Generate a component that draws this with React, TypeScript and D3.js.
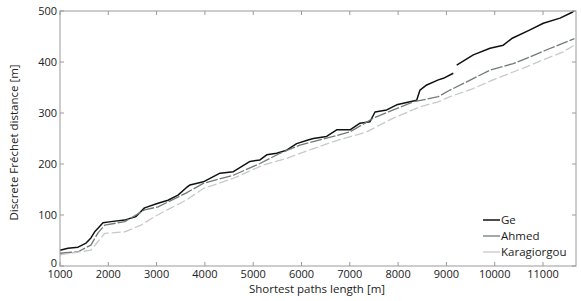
import React from 'react';
import * as d3 from 'd3';

// shortest path length [m] / discrete Frechet distance [m]
const geX = [1000, 1165, 1373, 1540, 1640, 1718, 1787, 1890, 2056, 2340, 2573, 2750, 3030, 3236, 3443, 3609, 3692, 3967, 4313, 4589, 4934, 5140, 5280, 5486, 5693, 5900, 6135, 6244, 6520, 6728, 7004, 7211, 7418, 7522, 7764, 7971, 8246, 8385, 8453, 8592, 8833, 8936, 9143, 9180, 9213, 9557, 9903, 10178, 10352, 10731, 11006, 11352, 11594, 11640];
const geY: (number | null)[] = [31, 35, 37, 45, 55, 67, 74, 85, 87, 90, 97, 114, 123, 129, 139, 153, 159, 165, 182, 185, 205, 208, 218, 221, 227, 240, 247, 250, 254, 267, 267, 280, 283, 302, 306, 316, 322, 325, 345, 355, 365, 368, 378, null, 394, 414, 427, 433, 446, 463, 476, 486, 497, 500];

const ahmedX = [1000, 1373, 1640, 1787, 1925, 2340, 2750, 3030, 3609, 3967, 4589, 5140, 5555, 5969, 6659, 7004, 7487, 7901, 8315, 8833, 9075, 9420, 9903, 10385, 10731, 11076, 11421, 11650];
const ahmedY = [25, 28, 41, 65, 80, 87, 110, 116, 143, 162, 178, 201, 221, 237, 254, 263, 290, 306, 322, 332, 345, 361, 384, 397, 410, 424, 437, 446];

const karaX = [1000, 1640, 1787, 1925, 2340, 2677, 2960, 3300, 3609, 3967, 4589, 5210, 5693, 5969, 6659, 7349, 7901, 8453, 8833, 9075, 9557, 10041, 10592, 11076, 11421, 11650];
const karaY = [22, 31, 48, 64, 67, 80, 97, 114, 129, 152, 172, 198, 211, 221, 244, 263, 290, 312, 322, 332, 348, 368, 388, 407, 420, 433];

const xTicks = [1000, 2000, 3000, 4000, 5000, 6000, 7000, 8000, 9000, 10000, 11000];
const yTicks = [0, 100, 200, 300, 400, 500];

const W = 581;
const H = 301;
const m = { top: 11, right: 5, bottom: 35, left: 60 };
const font = '"Open Sans", "DejaVu Sans", sans-serif';
const axisColor = '#9a9a9a';

const series = [
  { name: 'Ge', xs: geX, ys: geY, color: '#111111', width: 1.5, dash: '' },
  { name: 'Ahmed', xs: ahmedX, ys: ahmedY, color: '#707a7a', width: 1.3, dash: '12,2' },
  { name: 'Karagiorgou', xs: karaX, ys: karaY, color: '#c9c9c9', width: 1.3, dash: '9,3' },
];

export default function App() {
  const x = d3.scaleLinear().domain([1000, 11683]).range([m.left, W - m.right]);
  const y = d3.scaleLinear().domain([0, 500]).range([H - m.bottom, m.top]);
  const line = d3
    .line<[number, number | null]>()
    .defined((d) => d[1] !== null)
    .x((d) => x(d[0]))
    .y((d) => y(d[1] as number));

  const x0 = m.left;
  const x1 = W - m.right;
  const y0 = H - m.bottom;
  const y1 = m.top;
  const tl = 4;

  return (
    <svg width={W} height={H} style={{ position: 'absolute', left: 0, top: 0, background: '#fff' }} fontFamily={font}>
      {series.map((s) => (
        <path
          key={s.name}
          d={line(s.xs.map((v, i) => [v, s.ys[i]] as [number, number | null])) || ''}
          fill="none"
          stroke={s.color}
          strokeWidth={s.width}
          strokeDasharray={s.dash || undefined}
          strokeLinejoin="round"
        />
      ))}

      {/* frame */}
      <rect x={x0} y={y1} width={x1 - x0} height={y0 - y1} fill="none" stroke={axisColor} strokeWidth={1} />

      {xTicks.map((t) => (
        <g key={'x' + t}>
          <line x1={x(t)} x2={x(t)} y1={y0} y2={y0 - tl} stroke={axisColor} />
          <line x1={x(t)} x2={x(t)} y1={y1} y2={y1 + tl} stroke={axisColor} />
          <text x={x(t)} y={y0 + 12} textAnchor="middle" fontSize={11} fill="#222">
            {t}
          </text>
        </g>
      ))}
      {yTicks.map((t) => (
        <g key={'y' + t}>
          <line x1={x0} x2={x0 + tl} y1={y(t)} y2={y(t)} stroke={axisColor} />
          <line x1={x1} x2={x1 - tl} y1={y(t)} y2={y(t)} stroke={axisColor} />
          <text x={x0 - 3} y={y(t) + (t === 0 ? 1 : 4)} textAnchor="end" fontSize={11} fill="#222">
            {t}
          </text>
        </g>
      ))}

      <text x={(x0 + x1) / 2 - 1} y={y0 + 27} textAnchor="middle" fontSize={11.5} fill="#222">
        Shortest paths length [m]
      </text>
      <text transform={`translate(18, ${(y0 + y1) / 2 + 4}) rotate(-90)`} textAnchor="middle" fontSize={11.5} fill="#222">
        Discrete Fréchet distance [m]
      </text>

      {/* legend */}
      {series.map((s, i) => (
        <g key={'l' + s.name} transform={`translate(483, ${220 + i * 16})`}>
          <line x1={0} x2={17} y1={0} y2={0} stroke={s.color} strokeWidth={s.width} />
          <text x={18} y={4} fontSize={11.5} fill="#222">
            {s.name}
          </text>
        </g>
      ))}
    </svg>
  );
}
